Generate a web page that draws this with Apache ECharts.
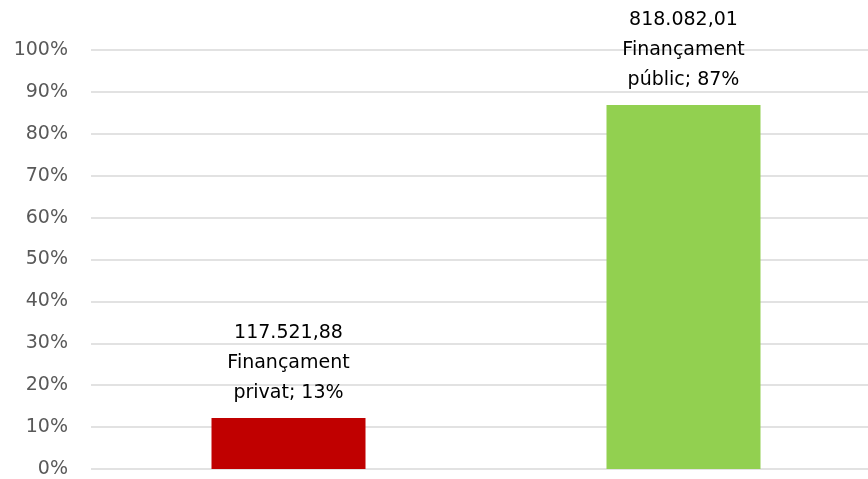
<!DOCTYPE html>
<html><head><meta charset="utf-8">
<script src="https://cdn.jsdelivr.net/npm/echarts@6/dist/echarts.min.js"></script>
<style>html,body{margin:0;padding:0;background:#fff}#c{width:868px;height:479px}</style>
</head><body><div id="c"></div>
<script>
const categories = ['Finançament privat', 'Finançament públic'];
const amountLabels = ['117.521,88', '818.082,01'];
const shareValues = [12.2, 86.9];
const shareLabels = ['13%', '87%'];
const categoryLines = [['Finançament', 'privat'], ['Finançament', 'públic']];
const barColors = ['#C00000', '#92D050'];
const yTicks = [0, 10, 20, 30, 40, 50, 60, 70, 80, 90, 100];

const chart = echarts.init(document.getElementById('c'));
chart.setOption({
  animation: false,
  grid: { left: 91, width: 790, top: 50, bottom: 10, containLabel: false, outerBoundsMode: 'none' },
  xAxis: {
    type: 'category', data: categories,
    axisLine: { show: false }, axisTick: { show: false }, axisLabel: { show: false }
  },
  yAxis: {
    type: 'value', min: yTicks[0], max: yTicks[yTicks.length - 1], interval: 10,
    axisLine: { show: false }, axisTick: { show: false },
    axisLabel: { formatter: v => v + '%', color: '#595959', fontSize: 19, fontFamily: 'DejaVu Sans', margin: 23 },
    splitLine: { lineStyle: { color: '#D9D9D9', width: 1.5 } }
  },
  series: [{
    type: 'bar', barWidth: 154,
    data: shareValues.map((v, i) => ({ value: v, itemStyle: { color: barColors[i] } })),
    label: {
      show: true, position: 'top', distance: 10,
      color: '#000', fontSize: 19, fontFamily: 'DejaVu Sans', lineHeight: 30, align: 'center',
      formatter: p => amountLabels[p.dataIndex] + '\n' + categoryLines[p.dataIndex][0] + '\n' + categoryLines[p.dataIndex][1] + '; ' + shareLabels[p.dataIndex]
    }
  }]
});
</script></body></html>
